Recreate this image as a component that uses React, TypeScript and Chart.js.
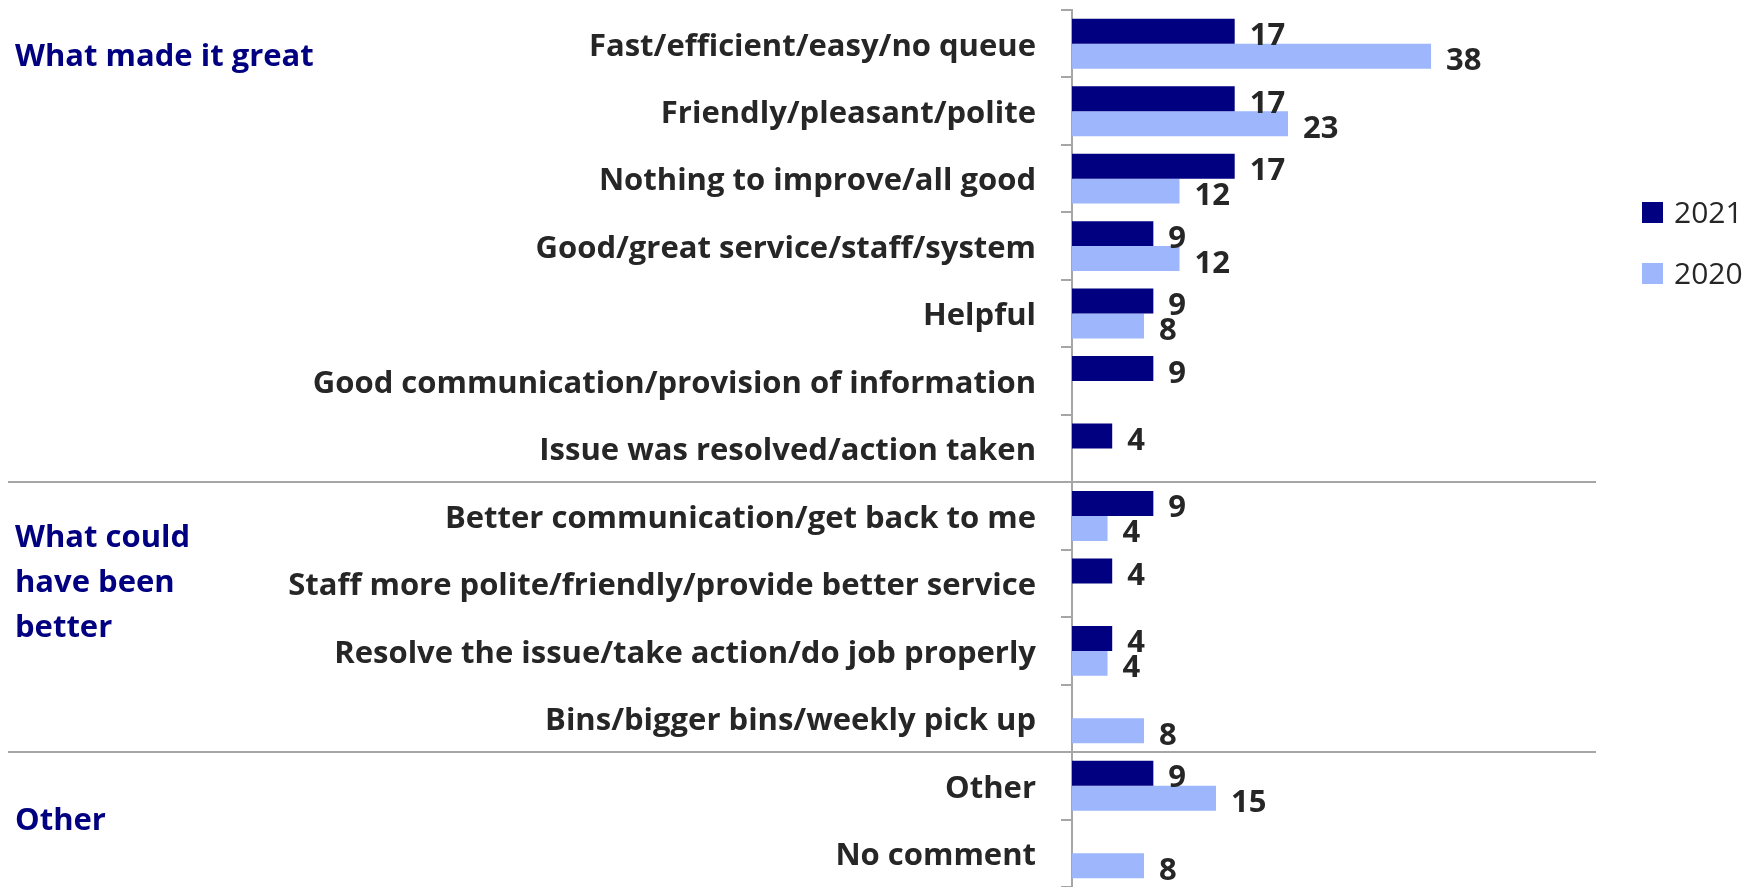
import React, { useEffect, useRef } from "react";
import { Chart, registerables } from "chart.js";

Chart.register(...registerables);

const categories = [
  "Fast/efficient/easy/no queue",
  "Friendly/pleasant/polite",
  "Nothing to improve/all good",
  "Good/great service/staff/system",
  "Helpful",
  "Good communication/provision of information",
  "Issue was resolved/action taken",
  "Better communication/get back to me",
  "Staff more polite/friendly/provide better service",
  "Resolve the issue/take action/do job properly",
  "Bins/bigger bins/weekly pick up",
  "Other",
  "No comment",
];

const values2021: (number | null)[] = [17.4, 17.4, 17.4, 8.7, 8.7, 8.7, 4.3, 8.7, 4.3, 4.3, null, 8.7, null];
const values2020: (number | null)[] = [38.4, 23.1, 11.5, 11.5, 7.7, null, null, 3.8, null, 3.8, 7.7, 15.4, 7.7];

const seriesNames = ["2021", "2020"];
const seriesColors = ["#000080", "#9DB6FC"];

const groupLabels: { lines: string[]; baselines: number[] }[] = [
  { lines: ["What made it great"], baselines: [66] },
  { lines: ["What could", "have been", "better"], baselines: [547, 592, 637] },
  { lines: ["Other"], baselines: [830] },
];
const separatorsAfter = [6, 10];

const FONT = "'Open Sans'";

const overlayPlugin = {
  id: "overlay",
  afterDatasetsDraw(chart: any) {
    const ctx = chart.ctx;
    ctx.save();
    // value labels
    ctx.font = `bold 31px ${FONT}`;
    ctx.fillStyle = "#262626";
    ctx.textAlign = "left";
    ctx.textBaseline = "alphabetic";
    chart.data.datasets.forEach((ds: any, di: number) => {
      const meta = chart.getDatasetMeta(di);
      meta.data.forEach((el: any, i: number) => {
        const v = ds.data[i];
        if (v === null || v === undefined) return;
        ctx.fillText(String(Math.round(v)), el.x + 15, el.y + 14);
      });
    });
    // separators
    const y = chart.scales.y;
    ctx.strokeStyle = "#a6a6a6";
    ctx.lineWidth = 2;
    separatorsAfter.forEach((idx) => {
      const py = Math.round((y.getPixelForValue(idx) + y.getPixelForValue(idx + 1)) / 2);
      ctx.beginPath();
      ctx.moveTo(8, py);
      ctx.lineTo(1596, py);
      ctx.stroke();
    });
    // group labels
    ctx.font = `bold 31px ${FONT}`;
    ctx.fillStyle = "#000080";
    groupLabels.forEach((g) => {
      g.lines.forEach((line, i) => ctx.fillText(line, 15, g.baselines[i]));
    });
    // legend
    ctx.font = `30px ${FONT}`;
    chart.data.datasets.forEach((ds: any, di: number) => {
      const top = 202 + di * 61;
      ctx.fillStyle = ds.backgroundColor;
      ctx.fillRect(1642, top, 21, 21);
      ctx.fillStyle = "#262626";
      ctx.fillText(ds.label, 1674, top + 21);
    });
    ctx.restore();
  },
};

export default function App() {
  const ref = useRef<HTMLCanvasElement | null>(null);
  useEffect(() => {
    document.body.style.margin = "0";
    const canvas = ref.current!;
    const chart = new Chart(canvas, {
      type: "bar",
      data: {
        labels: categories,
        datasets: [
          { label: seriesNames[0], data: values2021 as any, backgroundColor: seriesColors[0], categoryPercentage: 0.74, barPercentage: 1 },
          { label: seriesNames[1], data: values2020 as any, backgroundColor: seriesColors[1], categoryPercentage: 0.74, barPercentage: 1 },
        ],
      },
      options: {
        indexAxis: "y",
        responsive: false,
        animation: false,
        devicePixelRatio: 1,
        layout: { padding: { left: 0, top: 10, right: 304, bottom: 0 } },
        plugins: { legend: { display: false }, tooltip: { enabled: false } },
        scales: {
          x: { display: false, min: 0, max: 40 },
          y: {
            afterFit: (scale: any) => {
              scale.width = 1072;
              scale.paddingTop = 0;
              scale.paddingBottom = 0;
            },
            border: { display: true, color: "#a6a6a6", width: 2 },
            grid: { display: true, drawOnChartArea: false, drawTicks: true, tickLength: 11, color: "#a6a6a6", lineWidth: 2, offset: true },
            ticks: {
              autoSkip: false,
              padding: 25,
              labelOffset: 3,
              color: "#262626",
              font: { family: "Open Sans", size: 31, weight: "bold" },
            },
          },
        },
      },
      plugins: [overlayPlugin],
    });
    return () => chart.destroy();
  }, []);
  return (
    <div style={{ position: "absolute", left: 0, top: 0, width: 1750, height: 887 }}>
      <canvas ref={ref} width={1750} height={887} />
    </div>
  );
}
